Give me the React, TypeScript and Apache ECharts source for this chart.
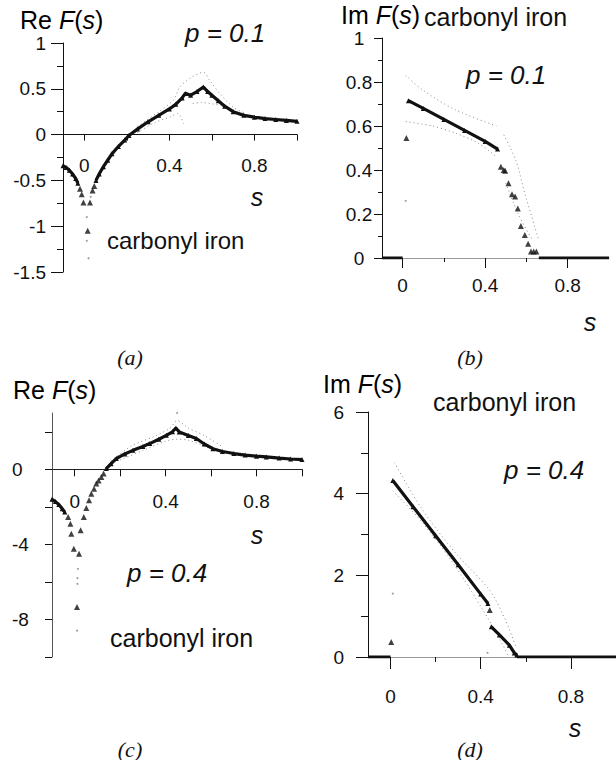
import React, { useEffect, useRef } from "react";
import * as echarts from "echarts";

// ---------- Panel (a): Re F(s), p = 0.1 ----------
const aLeftCurve = [[-0.1, -0.34], [-0.085, -0.36], [-0.07, -0.39], [-0.055, -0.43], [-0.04, -0.48], [-0.03, -0.53]];
const aPoints = [[-0.02, -0.59], [-0.012, -0.65], [-0.004, -0.74], [0.016, -1.05], [0.027, -0.74], [0.039, -0.61], [0.047, -0.56]];
const aRightCurve = [[0.055, -0.5], [0.07, -0.43], [0.09, -0.35], [0.11, -0.28], [0.13, -0.21], [0.16, -0.13], [0.19, -0.06], [0.21, -0.01], [0.25, 0.06], [0.3, 0.14], [0.35, 0.21], [0.4, 0.28], [0.43, 0.33], [0.46, 0.4], [0.475, 0.45], [0.5, 0.43], [0.53, 0.47], [0.56, 0.52], [0.58, 0.47], [0.6, 0.43], [0.63, 0.37], [0.66, 0.31], [0.7, 0.25], [0.75, 0.21], [0.8, 0.19], [0.85, 0.175], [0.9, 0.165], [0.95, 0.155], [1.0, 0.145]];
const aUpper = [[0.25, 0.09], [0.35, 0.25], [0.42, 0.38], [0.45, 0.52], [0.5, 0.62], [0.56, 0.68], [0.59, 0.59], [0.64, 0.44], [0.7, 0.3], [0.75, 0.24]];
const aLower1 = [[0.25, 0.02], [0.33, 0.13], [0.4, 0.19], [0.44, 0.23], [0.467, 0.12]];
const aLower2 = [[0.51, 0.34], [0.55, 0.35], [0.59, 0.34], [0.67, 0.3], [0.72, 0.22]];
const aDots = [[0.012, -0.9], [0.012, -1.16], [0.02, -1.35], [0.03, -0.68]];

// ---------- Panel (b): Im F(s), p = 0.1 ----------
const bZeroL = [[-0.1, 0], [0.0, 0]];
const bPoints = [[0.018, 0.545], [0.476, 0.415], [0.49, 0.4], [0.497, 0.397], [0.513, 0.34], [0.53, 0.29], [0.545, 0.28], [0.558, 0.225], [0.573, 0.145], [0.592, 0.105], [0.608, 0.065], [0.622, 0.03], [0.635, 0.03], [0.648, 0.03]];
const bLine = [[0.028, 0.715], [0.1, 0.68], [0.2, 0.63], [0.3, 0.58], [0.4, 0.53], [0.46, 0.495]];
const bZeroR = [[0.66, 0], [1.0, 0]];
const bUpper1 = [[0.015, 0.83], [0.096, 0.764], [0.257, 0.673], [0.454, 0.6]];
const bUpper2 = [[0.49, 0.56], [0.55, 0.44], [0.59, 0.3], [0.66, 0.08]];
const bLower1 = [[0.015, 0.62], [0.144, 0.6], [0.257, 0.567], [0.37, 0.52], [0.454, 0.46]];
const bLower2 = [[0.5, 0.34], [0.56, 0.2], [0.63, 0.08]];
const bLower3 = [[0.6, -0.08], [0.66, -0.06]];
const bDots = [[0.015, 0.26]];

// ---------- Panel (c): Re F(s), p = 0.4 ----------
const cLeftCurve = [[-0.1, -1.6], [-0.085, -1.72], [-0.07, -1.88], [-0.055, -2.1], [-0.044, -2.28]];
const cPoints = [[-0.029, -2.54], [-0.019, -2.9], [-0.015, -3.43], [-0.004, -4.23], [0.01, -7.34], [0.019, -4.5], [0.026, -3.25], [0.04, -2.54], [0.051, -2.06], [0.063, -1.65], [0.073, -1.3], [0.085, -1.03], [0.095, -0.76], [0.105, -0.59], [0.117, -0.41], [0.127, -0.23]];
const cRightCurve = [[0.139, 0.04], [0.16, 0.3], [0.183, 0.57], [0.22, 0.82], [0.256, 1.01], [0.3, 1.22], [0.33, 1.37], [0.37, 1.6], [0.403, 1.81], [0.43, 2.0], [0.445, 2.2], [0.46, 1.99], [0.5, 1.8], [0.535, 1.64], [0.57, 1.35], [0.608, 1.1], [0.65, 0.95], [0.7, 0.84], [0.75, 0.76], [0.8, 0.7], [0.843, 0.66], [0.9, 0.6], [0.95, 0.55], [1.0, 0.52]];
const cUpper = [[0.16, 0.45], [0.25, 1.25], [0.35, 1.75], [0.42, 2.2], [0.45, 2.6], [0.5, 2.2], [0.57, 1.8], [0.65, 1.2]];
const cLower = [[0.2, 0.5], [0.3, 1.0], [0.4, 1.5], [0.45, 1.6], [0.5, 1.55], [0.6, 1.1], [0.65, 0.95]];
const cDots = [[0.45, 3.0], [0.014, -5.3], [0.012, -5.8], [0.012, -6.1], [0.01, -8.6]];

// ---------- Panel (d): Im F(s), p = 0.4 ----------
const dZeroL = [[-0.1, 0], [0.0, 0]];
const dPoints = [[0.003, 0.37], [0.44, 1.15]];
const dLine1 = [[0.01, 4.32], [0.1, 3.68], [0.2, 2.97], [0.3, 2.26], [0.4, 1.54], [0.432, 1.31]];
const dLine2 = [[0.447, 0.74], [0.483, 0.54], [0.527, 0.29], [0.549, 0.1], [0.56, 0.05]];
const dZeroR = [[0.56, 0], [1.0, 0]];
const dUpper = [[0.017, 4.76], [0.134, 3.67], [0.28, 2.6], [0.44, 1.63], [0.51, 0.9], [0.556, 0.25]];
const dLower = [[0.01, 4.07], [0.134, 3.34], [0.28, 2.28], [0.41, 1.15], [0.47, 0.58], [0.54, -0.15]];
const dDots = [[0.01, 1.55], [0.43, 0.1]];

// ---------- Tick values ----------
const xTicksAll = [0, 0.2, 0.4, 0.6, 0.8, 1.0];
const xTicksMajor = [0, 0.4, 0.8];
const xTicksMinor = [0.2, 0.6];
const xLabels = [0, 0.4, 0.8];
const aYMajor = [-1.5, -1, -0.5, 0, 0.5, 1];
const aYMinor = [-1.25, -0.75, -0.25, 0.25, 0.75];
const bYMajor = [0, 0.2, 0.4, 0.6, 0.8, 1];
const bYMinor = [0.1, 0.3, 0.5, 0.7, 0.9];
const cYTicks = [-10, -8, -6, -4, -2, 0, 2];
const cYLabels = [-8, -4, 0];
const dYMajor = [0, 2, 4, 6];
const dYMinor = [1, 3, 5];

const FONT = '"Liberation Sans", Arial, sans-serif';
const SERIF = '"Liberation Serif", "Times New Roman", serif';
const INK = "#111";

function fmt(v: number) {
  return String(Math.round(v * 100) / 100);
}

function xAxisDef(gridIndex: number, o: any) {
  return {
    type: "value",
    gridIndex,
    position: "bottom",
    show: o.hidden !== true,
    min: -0.1,
    max: 1.0,
    splitLine: { show: false },
    axisLine: { show: o.line !== false, onZero: false, lineStyle: { color: o.lineColor || INK, width: 1 } },
    axisTick: { show: !!o.ticks, length: o.tickLen || 5, customValues: o.ticks, lineStyle: { color: INK, width: 1 } },
    axisLabel: o.labels
      ? { show: true, customValues: o.labels, margin: o.margin, fontSize: 19, fontFamily: FONT, color: INK, formatter: fmt }
      : { show: false },
  };
}

function yAxisDef(gridIndex: number, o: any) {
  return {
    type: "value",
    gridIndex,
    position: "left",
    show: o.hidden !== true,
    min: o.min,
    max: o.max,
    splitLine: { show: false },
    axisLine: { show: o.line !== false, onZero: false, lineStyle: { color: o.lineColor || INK, width: 1 } },
    axisTick: { show: !!o.ticks, length: o.tickLen || 5, customValues: o.ticks, lineStyle: { color: INK, width: 1 } },
    axisLabel: o.labels
      ? { show: true, customValues: o.labels, margin: o.margin, align: o.align, fontSize: 19, fontFamily: FONT, color: INK, formatter: fmt }
      : { show: false },
  };
}

function curve(data: number[][], xi: number, yi: number) {
  return {
    type: "line", data, xAxisIndex: xi, yAxisIndex: yi,
    symbol: "triangle", symbolSize: 5, showSymbol: true,
    lineStyle: { color: INK, width: 3.2 }, itemStyle: { color: INK },
    z: 5,
  };
}
function pts(data: number[][], xi: number, yi: number) {
  return {
    type: "scatter", data, xAxisIndex: xi, yAxisIndex: yi,
    symbol: "triangle", symbolSize: 6, itemStyle: { color: INK }, z: 6,
  };
}
function zero(data: number[][], xi: number, yi: number) {
  return {
    type: "line", data, xAxisIndex: xi, yAxisIndex: yi, symbol: "none",
    lineStyle: { color: INK, width: 3 }, z: 5,
  };
}
function band(data: number[][], xi: number, yi: number) {
  return {
    type: "line", data, xAxisIndex: xi, yAxisIndex: yi, symbol: "none", smooth: 0.3,
    lineStyle: { color: "#8a8a8a", width: 1, type: [1, 3] }, z: 3,
  };
}
function dots(data: number[][], xi: number, yi: number) {
  return {
    type: "scatter", data, xAxisIndex: xi, yAxisIndex: yi,
    symbol: "circle", symbolSize: 2, itemStyle: { color: "#888" }, z: 3,
  };
}

function richTitle(text: string, x: number, y: number) {
  return {
    type: "text", x, y,
    style: {
      text,
      rich: {
        n: { fontSize: 25, fontFamily: FONT, color: INK },
        i: { fontSize: 25, fontFamily: FONT, fontStyle: "italic", color: INK },
      },
      textVerticalAlign: "middle",
    },
  };
}
function txt(text: string, x: number, y: number, size: number, italic: boolean, align = "left", family = FONT) {
  return {
    type: "text", x, y,
    style: {
      text, fill: INK, textAlign: align, textVerticalAlign: "middle",
      font: `${italic ? "italic " : ""}${size}px ${family}`,
    },
  };
}

export default function App() {
  const ref = useRef<HTMLDivElement>(null);
  useEffect(() => {
    if (!ref.current) return;
    const chart = echarts.init(ref.current, null, { renderer: "svg" });
    chart.setOption({
      animation: false,
      backgroundColor: "#fff",
      grid: [
        { left: 63, top: 43, width: 234, height: 229 },
        { left: 382, top: 38, width: 227, height: 220 },
        { left: 52, top: 413, width: 250, height: 244 },
        { left: 368, top: 412, width: 252, height: 245 },
        // axis-only grids whose bottom edge sits at y = 0 of (a) and (c)
        { left: 63, top: 43, width: 234, height: 91.6 },
        { left: 52, top: 413, width: 250, height: 56.3 },
      ],
      xAxis: [
        xAxisDef(0, { hidden: true }),
        xAxisDef(4, { tickLen: 6, ticks: xTicksAll, labels: xLabels, margin: 21 }),
        xAxisDef(1, { tickLen: 10, ticks: xTicksMajor, labels: xLabels, margin: 18, lineColor: "#999" }),
        xAxisDef(1, { line: false, tickLen: 4, ticks: xTicksMinor }),
        xAxisDef(2, { hidden: true }),
        xAxisDef(5, { tickLen: 7, ticks: xTicksAll, labels: xLabels, margin: 23, lineColor: "#222" }),
        xAxisDef(3, { tickLen: 12, ticks: xTicksMajor, labels: xLabels, margin: 30, lineColor: "#999" }),
        xAxisDef(3, { line: false, tickLen: 5, ticks: xTicksMinor }),
      ],
      yAxis: [
        yAxisDef(0, { min: -1.5, max: 1, tickLen: 12, ticks: aYMajor, labels: aYMajor, margin: 17, align: "right" }),
        yAxisDef(0, { min: -1.5, max: 1, line: false, tickLen: 6, ticks: aYMinor }),
        yAxisDef(1, { min: 0, max: 1, tickLen: 8, ticks: bYMajor, labels: bYMajor, margin: 23, align: "center" }),
        yAxisDef(1, { min: 0, max: 1, line: false, tickLen: 4, ticks: bYMinor }),
        yAxisDef(2, { min: -10, max: 3, tickLen: 7, ticks: cYTicks, labels: cYLabels, margin: 40, align: "left", lineColor: "#555" }),
        yAxisDef(3, { min: 0, max: 6, tickLen: 12, ticks: dYMajor, labels: dYMajor, margin: 24, align: "right" }),
        yAxisDef(3, { min: 0, max: 6, line: false, tickLen: 7, ticks: dYMinor }),
        yAxisDef(4, { min: 0, max: 1, hidden: true }),
        yAxisDef(5, { min: 0, max: 1, hidden: true }),
      ],
      series: [
        // (a)
        band(aUpper, 0, 0), band(aLower1, 0, 0), band(aLower2, 0, 0), dots(aDots, 0, 0),
        curve(aLeftCurve, 0, 0), pts(aPoints, 0, 0), curve(aRightCurve, 0, 0),
        // (b)
        band(bUpper1, 2, 2), band(bUpper2, 2, 2), band(bLower1, 2, 2), band(bLower2, 2, 2), band(bLower3, 2, 2), dots(bDots, 2, 2),
        zero(bZeroL, 2, 2), pts(bPoints, 2, 2), curve(bLine, 2, 2), zero(bZeroR, 2, 2),
        // (c)
        band(cUpper, 4, 4), band(cLower, 4, 4), dots(cDots, 4, 4),
        curve(cLeftCurve, 4, 4), pts(cPoints, 4, 4), curve(cRightCurve, 4, 4),
        // (d)
        band(dUpper, 6, 5), band(dLower, 6, 5), dots(dDots, 6, 5),
        zero(dZeroL, 6, 5), pts(dPoints, 6, 5), curve(dLine1, 6, 5), curve(dLine2, 6, 5), zero(dZeroR, 6, 5),
      ],
      graphic: [
        richTitle("{n|Re }{i|F}{n|(}{i|s}{n|)}", 20, 20),
        txt("p = 0.1", 185, 33, 26, true),
        txt("carbonyl iron", 107, 240, 24, false),
        txt("s", 257, 197, 25, true, "center"),
        txt("(a)", 130, 357, 22, true, "center", SERIF),

        richTitle("{n|Im }{i|F}{n|(}{i|s}{n|)}", 341, 15),
        txt("carbonyl iron", 424, 17, 25, false),
        txt("p = 0.1", 466, 75, 26, true),
        txt("s", 590, 322, 25, true, "center"),
        txt("(b)", 470, 357, 22, true, "center", SERIF),

        richTitle("{n|Re }{i|F}{n|(}{i|s}{n|)}", 13, 390),
        txt("p = 0.4", 127, 573, 26, true),
        txt("carbonyl iron", 110, 638, 25, false),
        txt("s", 257, 535, 25, true, "center"),
        txt("(c)", 130, 749, 22, true, "center", SERIF),

        richTitle("{n|Im }{i|F}{n|(}{i|s}{n|)}", 323, 384),
        txt("carbonyl iron", 433, 402, 25, false),
        txt("p = 0.4", 504, 470, 26, true),
        txt("s", 575, 728, 25, true, "center"),
        txt("(d)", 470, 749, 22, true, "center", SERIF),
      ],
    });
    return () => chart.dispose();
  }, []);
  return <div ref={ref} style={{ position: "absolute", left: 0, top: 0, width: 616, height: 760 }} />;
}
